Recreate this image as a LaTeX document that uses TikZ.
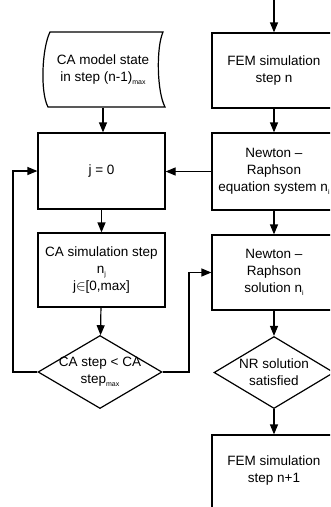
\documentclass[tikz,border=0pt]{standalone}
\usepackage{fontspec}
\setmainfont{Liberation Sans}
\usetikzlibrary{shapes.geometric,arrows.meta}
\newcommand{\lowsub}[1]{\raisebox{-0.45ex}{\fontsize{7}{7}\selectfont #1}}
\begin{document}
\begin{tikzpicture}[x=1pt,y=-1pt,line width=1.2pt,
  txt/.style={align=center,inner sep=0pt,font=\fontsize{13.5}{17}\selectfont},
  box/.style={txt,draw,rectangle,minimum width=127pt},
  rbox/.style={txt,draw,rectangle,minimum width=124pt},
  dia/.style={draw,diamond,inner sep=0pt},
  arr/.style={-{Triangle[length=10pt,width=8pt]}}]
\useasboundingbox (0,0) rectangle (330,507);
\clip (0,0) rectangle (330,507);
% left column
\draw (50,32) .. controls (42,48) and (40,92) .. (48,107) -- (165,107)
      .. controls (157,92) and (156,48) .. (163,32) -- cycle;
\node[txt,minimum height=75pt] (camodel) at (103,69.5) {CA model state\\in step (n-1)\lowsub{max}};
\node[box,minimum height=76pt] (j0) at (101.5,171) {j = 0};
\node[box,minimum height=74pt] (casim) at (101.5,270) {CA simulation step\\n\lowsub{j}\\j$\in$[0,max]};
\node[dia,minimum width=124pt,minimum height=73pt] (cadia) at (100,372) {};
\node[txt] (cadiat) at (cadia.center) {CA step < CA\\step\lowsub{max}};
% right column
\coordinate (topin) at (274,0);
\node[rbox,minimum height=75pt] (femn) at (274,70.5) {FEM simulation\\step n};
\node[rbox,minimum height=77pt] (nreq) at (274,171.5) {Newton --\\Raphson\\equation system n\lowsub{i}};
\node[rbox,minimum height=75pt] (nrsol) at (274,272.5) {Newton --\\Raphson\\solution n\lowsub{i}};
\node[dia,minimum width=120pt,minimum height=72pt] (nrdia) at (274,372.5) {};
\node[txt] (nrdiat) at (nrdia.center) {NR solution\\satisfied};
\node[rbox,minimum height=100pt] (femn1) at (274,485) {};
\node[txt] (femn1t) at (274,471) {FEM simulation\\step n+1};
% helper coordinates
\coordinate (l1) at (13,0);
\coordinate (r1) at (189,0);
% connectors
\draw[arr] (camodel.south) -- (camodel.south |- j0.north);
\draw[arr] (j0) -- (casim);
\draw[arr] (casim) -- (cadia);
\draw[arr] (cadia.west) -- (cadia.west -| l1) |- (j0.west);
\draw[arr] (cadia.east) -- (cadia.east -| r1) |- (nrsol.west);
\draw[arr] (topin) -- (femn.north);
\draw[arr] (femn) -- (nreq);
\draw[arr] (nreq.west) -- (nreq.west -| j0.east);
\draw[arr] (nreq) -- (nrsol);
\draw[arr] (nrsol) -- (nrdia);
\draw[arr] (nrdia.south) -- (femn1.north);
\end{tikzpicture}
\end{document}
